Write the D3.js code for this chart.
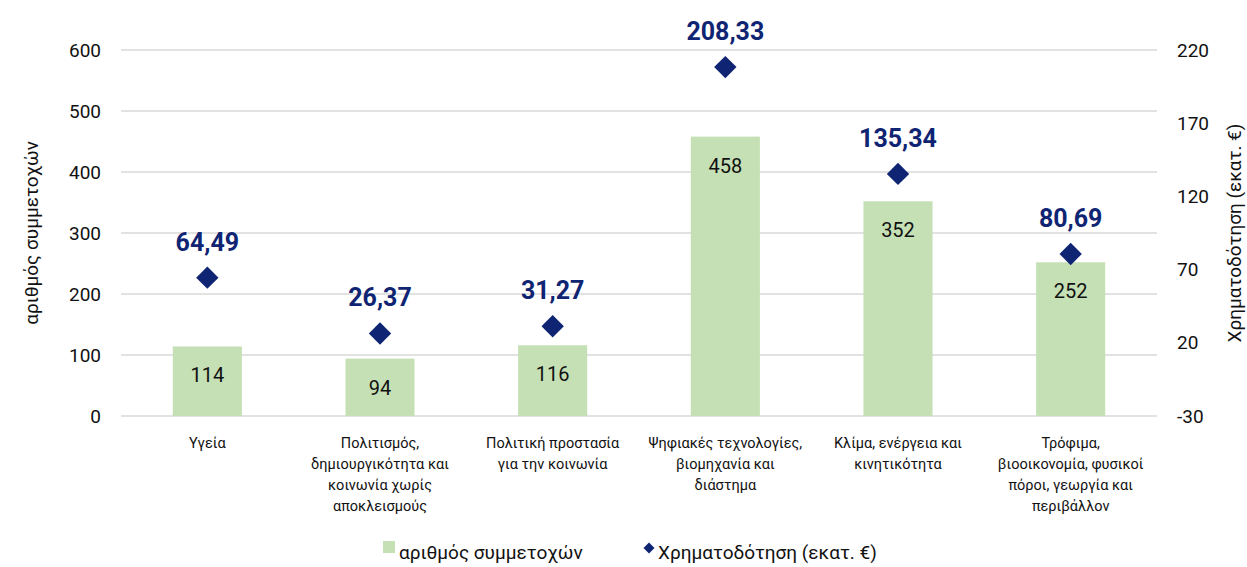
<!DOCTYPE html>
<html>
<head>
<meta charset="utf-8">
<script src="https://cdnjs.cloudflare.com/ajax/libs/d3/7.8.5/d3.min.js"></script>
<style>
  body { margin: 0; background: #fff; }
  text { font-family: Roboto, "DejaVu Sans", sans-serif; }
</style>
</head>
<body>
<div id="chart"></div>
<script>
(function () {

  var categories = ['Υγεία', 'Πολιτισμός', 'Πολιτική προστασία', 'Ψηφιακές τεχνολογίες', 'Κλίμα', 'Τρόφιμα']
  var categoryLines = [
    ['Υγεία'],
    ['Πολιτισμός,', 'δημιουργικότητα και', 'κοινωνία χωρίς', 'αποκλεισμούς'],
    ['Πολιτική προστασία', 'για την κοινωνία'],
    ['Ψηφιακές τεχνολογίες,', 'βιομηχανία και', 'διάστημα'],
    ['Κλίμα, ενέργεια και', 'κινητικότητα'],
    ['Τρόφιμα,', 'βιοοικονομία, φυσικοί', 'πόροι, γεωργία και', 'περιβάλλον']
  ]
  var participations = [114, 94, 116, 458, 352, 252]
  var funding = [64.49, 26.37, 31.27, 208.33, 135.34, 80.69]
  var leftTicks = [0, 100, 200, 300, 400, 500, 600]
  var rightTicks = [-30, 20, 70, 120, 170, 220]

  var W = 1247, H = 567
  var margin = { top: 50, right: 90, bottom: 151, left: 121 }
  var width = W - margin.left - margin.right,
      height = H - margin.top - margin.bottom

  var navy = '#0f2472'

  var svg = d3.select('#chart').append('svg')
    .attr('width', W)
    .attr('height', H)

  var g = svg.append('g')
    .attr('transform', 'translate(' + margin.left + ',' + margin.top + ')')

  var x = d3.scaleBand()
    .domain(categories)
    .range([0, width])
    .paddingInner(0.6)
    .paddingOuter(0.3)

  var y = d3.scaleLinear()
    .domain([0, 600])
    .range([height, 0])

  var y2 = d3.scaleLinear()
    .domain([-30, 220])
    .range([height, 0])

  // gridlines
  g.append('g')
    .selectAll('line')
    .data(leftTicks)
    .enter().append('line')
    .attr('x1', 0)
    .attr('x2', width)
    .attr('y1', function (d) { return y(d) })
    .attr('y2', function (d) { return y(d) })
    .attr('stroke', '#d9d9d9')
    .attr('stroke-width', 1.5)

  // left axis
  var yAxis = d3.axisLeft(y).tickValues(leftTicks).tickSize(0).tickPadding(20)
    .tickFormat(function (d) { return String(d) })
  g.append('g')
    .attr('class', 'y-axis')
    .call(yAxis)
    .call(function (s) { s.select('.domain').remove() })
    .selectAll('text')
    .style('font-size', '19px')
    .attr('fill', '#111')

  // right axis
  var y2Axis = d3.axisRight(y2).tickValues(rightTicks).tickSize(0).tickPadding(20)
    .tickFormat(function (d) { return String(d) })
  g.append('g')
    .attr('class', 'y2-axis')
    .attr('transform', 'translate(' + width + ',0)')
    .call(y2Axis)
    .call(function (s) { s.select('.domain').remove() })
    .selectAll('text')
    .style('font-size', '19px')
    .attr('fill', '#111')

  // bars
  g.selectAll('.bar')
    .data(participations)
    .enter().append('rect')
    .attr('class', 'bar')
    .attr('x', function (d, i) { return x(categories[i]) })
    .attr('width', x.bandwidth())
    .attr('y', function (d) { return y(d) })
    .attr('height', function (d) { return height - y(d) })
    .attr('fill', '#c5e0b4')

  g.selectAll('.bar-label')
    .data(participations)
    .enter().append('text')
    .attr('class', 'bar-label')
    .attr('x', function (d, i) { return x(categories[i]) + x.bandwidth() / 2 })
    .attr('y', function (d) { return y(d) + 36 })
    .attr('text-anchor', 'middle')
    .style('font-size', '20px')
    .attr('fill', '#111')
    .text(function (d) { return d })

  // diamonds
  var diamond = d3.symbol().type(d3.symbolSquare).size(250)
  g.selectAll('.pt')
    .data(funding)
    .enter().append('path')
    .attr('class', 'pt')
    .attr('d', diamond)
    .attr('transform', function (d, i) {
      return 'translate(' + (x(categories[i]) + x.bandwidth() / 2) + ',' + y2(d) + ') rotate(45)'
    })
    .attr('fill', navy)

  g.selectAll('.pt-label')
    .data(funding)
    .enter().append('text')
    .attr('class', 'pt-label')
    .attr('x', function (d, i) { return x(categories[i]) + x.bandwidth() / 2 })
    .attr('y', function (d) { return y2(d) - 27 })
    .attr('text-anchor', 'middle')
    .style('font-size', '25px')
    .style('font-weight', 'bold')
    .attr('fill', navy)
    .text(function (d) { return d.toFixed(2).replace('.', ',') })

  // category labels
  var cat = g.selectAll('.cat')
    .data(categoryLines)
    .enter().append('text')
    .attr('class', 'cat')
    .attr('text-anchor', 'middle')
    .attr('x', function (d, i) { return x(categories[i]) + x.bandwidth() / 2 })
    .attr('y', height + 32)
    .style('font-size', '14.5px')
    .attr('fill', '#111')

  cat.selectAll('tspan')
    .data(function (d, i) { return d.map(function (t) { return { t: t, i: i } }) })
    .enter().append('tspan')
    .attr('x', function (d) { return x(categories[d.i]) + x.bandwidth() / 2 })
    .attr('dy', function (d, j) { return j === 0 ? 0 : 21 })
    .text(function (d) { return d.t })

  // axis titles
  svg.append('text')
    .attr('transform', 'translate(38,' + (margin.top + height / 2) + ') rotate(-90)')
    .attr('text-anchor', 'middle')
    .style('font-size', '19px')
    .attr('fill', '#111')
    .text('αριθμός συμμετοχών')

  svg.append('text')
    .attr('transform', 'translate(1241,' + (margin.top + height / 2) + ') rotate(-90)')
    .attr('text-anchor', 'middle')
    .style('font-size', '19px')
    .attr('fill', '#111')
    .text('Χρηματοδότηση (εκατ. €)')

  // legend
  var legend = svg.append('g').attr('transform', 'translate(0,553)')
  legend.append('rect')
    .attr('x', 383).attr('y', -12).attr('width', 12).attr('height', 12)
    .attr('fill', '#c5e0b4')
  legend.append('text')
    .attr('x', 399).attr('y', 6)
    .style('font-size', '19px')
    .attr('fill', '#111')
    .text('αριθμός συμμετοχών')
  legend.append('path')
    .attr('d', d3.symbol().type(d3.symbolSquare).size(60))
    .attr('transform', 'translate(649,-5) rotate(45)')
    .attr('fill', navy)
  legend.append('text')
    .attr('x', 658).attr('y', 6)
    .style('font-size', '19px')
    .attr('fill', '#111')
    .text('Χρηματοδότηση (εκατ. €)')

})()
</script>
</body>
</html>
